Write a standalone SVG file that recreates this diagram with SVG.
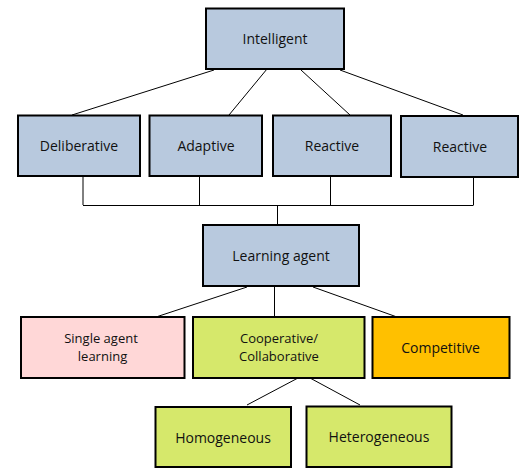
<svg xmlns="http://www.w3.org/2000/svg" width="519" height="468" viewBox="0 0 519 468">
<style>
.box{stroke:#000;stroke-width:2}
.blue{fill:#b8c9de}
.pink{fill:#ffd7d7}
.green{fill:#d6e86b}
.orange{fill:#ffc000}
text{font-family:"Open Sans","Liberation Sans",sans-serif;font-size:14px;fill:#111;text-anchor:middle;dominant-baseline:central}
text.two{font-size:13px}
.c line{stroke:#000;stroke-width:1;fill:none}
</style>
<rect width="519" height="468" fill="#fff"/>
<g class="c" id="connectors">
<line x1="214" y1="70" x2="72" y2="115"/>
<line x1="267" y1="69" x2="229" y2="115"/>
<line x1="301" y1="70" x2="350" y2="115"/>
<line x1="340" y1="70" x2="463" y2="115"/>
<line x1="83" y1="176" x2="83" y2="205"/>
<line x1="199.5" y1="176" x2="199.5" y2="205"/>
<line x1="330.5" y1="176" x2="330.5" y2="205"/>
<line x1="473.5" y1="177" x2="473.5" y2="205"/>
<line x1="83" y1="205.5" x2="473.5" y2="205.5"/>
<line x1="277.5" y1="205" x2="277.5" y2="225"/>
<line x1="247" y1="287" x2="156" y2="317"/>
<line x1="274.5" y1="287" x2="274.5" y2="317"/>
<line x1="313" y1="287" x2="397" y2="317"/>
<line x1="298" y1="378" x2="247" y2="405"/>
<line x1="310" y1="378" x2="360" y2="405"/>
</g>
<g id="intelligent"><rect class="box blue" x="206" y="8.5" width="138" height="60.5"/><text x="275" y="38.5">Intelligent</text></g>
<g id="deliberative"><rect class="box blue" x="18" y="115.5" width="122" height="60.5"/><text x="79" y="145">Deliberative</text></g>
<g id="adaptive"><rect class="box blue" x="149.5" y="115.5" width="112.5" height="60.5"/><text x="206" y="145">Adaptive</text></g>
<g id="reactive1"><rect class="box blue" x="273" y="115.5" width="118" height="60.5"/><text x="332" y="145">Reactive</text></g>
<g id="reactive2"><rect class="box blue" x="401" y="116" width="117" height="61"/><text x="460" y="146">Reactive</text></g>
<g id="learning"><rect class="box blue" x="203" y="225" width="156" height="61"/><text x="281" y="255">Learning agent</text></g>
<g id="single"><rect class="box pink" x="21" y="317" width="163.5" height="61"/><text class="two" x="101" y="338">Single agent</text><text class="two" x="102.5" y="356">learning</text></g>
<g id="cooperative"><rect class="box green" x="193" y="317" width="171.5" height="61"/><text class="two" x="279" y="338">Cooperative/</text><text class="two" x="279" y="356">Collaborative</text></g>
<g id="competitive"><rect class="box orange" x="372.5" y="317" width="137" height="61"/><text x="440.5" y="347">Competitive</text></g>
<g id="homogeneous"><rect class="box green" x="155.5" y="407" width="135.5" height="60"/><text x="223" y="437">Homogeneous</text></g>
<g id="heterogeneous"><rect class="box green" x="306.5" y="406.5" width="145" height="60.5"/><text x="379" y="436">Heterogeneous</text></g>
</svg>
